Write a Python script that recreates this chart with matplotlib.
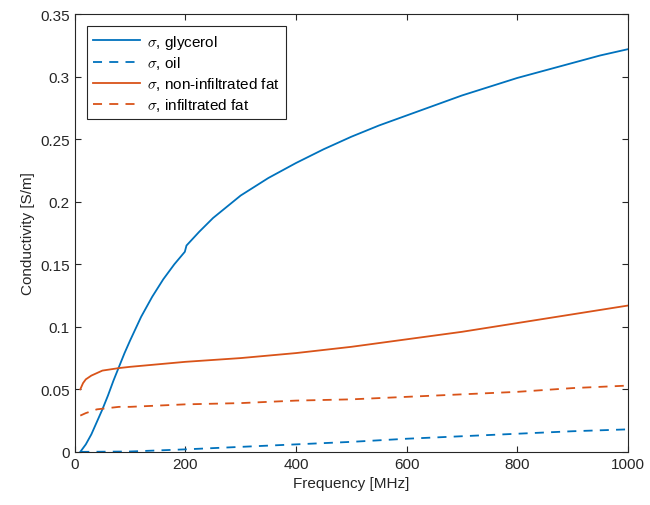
import numpy as np
import matplotlib.pyplot as plt

plt.rcParams['font.family'] = ['Liberation Sans', 'DejaVu Sans']
plt.rcParams['mathtext.fontset'] = 'cm'

# values
f_gly = [10, 20, 30, 40, 50, 60, 70, 80, 90, 100, 120, 140, 160, 180, 199, 202, 225, 250,
         300, 350, 400, 450, 500, 550, 600, 650, 700, 750, 800, 850, 900, 950, 1000]
s_gly = [0.000, 0.006, 0.014, 0.024, 0.034, 0.045, 0.057, 0.068, 0.079, 0.089, 0.108, 0.124,
         0.138, 0.150, 0.160, 0.165, 0.176, 0.187, 0.205, 0.219, 0.231, 0.242, 0.252, 0.261,
         0.269, 0.277, 0.285, 0.292, 0.299, 0.305, 0.311, 0.317, 0.322]

f_oil = [10, 100, 200, 300, 400, 500, 600, 700, 800, 900, 1000]
s_oil = [0.000, 0.0003, 0.002, 0.004, 0.006, 0.008, 0.0105, 0.0125, 0.0145, 0.0165, 0.018]

f_fat = [10, 15, 20, 30, 50, 80, 100, 200, 300, 400, 500, 600, 700, 800, 900, 1000]
s_fat = [0.050, 0.055, 0.058, 0.061, 0.065, 0.067, 0.068, 0.072, 0.075, 0.079, 0.084,
         0.090, 0.096, 0.103, 0.110, 0.117]

f_inf = [10, 20, 40, 80, 100, 200, 300, 400, 500, 600, 700, 800, 900, 1000]
s_inf = [0.029, 0.031, 0.034, 0.036, 0.036, 0.038, 0.039, 0.041, 0.042, 0.044, 0.046,
         0.048, 0.051, 0.053]

blue = '#0072BD'
red = '#D95319'

fig = plt.figure(figsize=(6.5, 5.06), dpi=100)
ax = fig.add_axes([0.115, 0.105, 0.851, 0.865])

ax.plot(f_gly, s_gly, color=blue, lw=1.3, label=r'$\sigma$, glycerol')
ax.plot(f_oil, s_oil, color=blue, lw=1.3, ls=(0, (5, 4)), label=r'$\sigma$, oil')
ax.plot(f_fat, s_fat, color=red, lw=1.3, label=r'$\sigma$, non-infiltrated fat')
ax.plot(f_inf, s_inf, color=red, lw=1.3, ls=(0, (5, 4)), label=r'$\sigma$, infiltrated fat')

ax.set_xlim(0, 1000)
ax.set_ylim(0, 0.35)
ax.set_xticks([0, 200, 400, 600, 800, 1000])
ax.set_yticks(np.arange(0, 0.351, 0.05))
ax.set_yticklabels(['0', '0.05', '0.1', '0.15', '0.2', '0.25', '0.3', '0.35'])
ax.tick_params(direction='in', top=True, right=True, labelsize=11, colors='#262626', length=4)
for sp in ax.spines.values():
    sp.set_color('#262626')
    sp.set_linewidth(0.8)

ax.set_xlabel('Frequency [MHz]', fontsize=11, color='#262626')
ax.set_ylabel('Conductivity [S/m]', fontsize=11, color='#262626')

leg = ax.legend(loc='upper left', fontsize=11, fancybox=False, edgecolor='#262626',
                framealpha=1, handlelength=3.1, handletextpad=0.45,
                borderaxespad=0.8, labelspacing=0.25)
leg.get_frame().set_linewidth(0.8)

fig.savefig('out.png', dpi=100)
